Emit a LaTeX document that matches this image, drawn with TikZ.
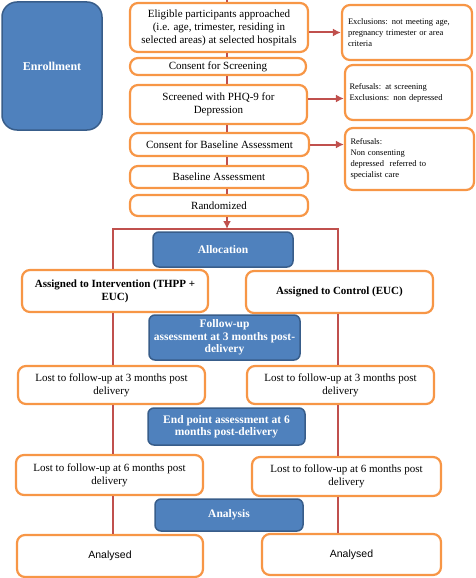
\documentclass[tikz,border=0pt]{standalone}
\usepackage{fontspec}
\setmainfont{Liberation Serif}
\newfontfamily\arialfont{Liberation Sans}
\usetikzlibrary{arrows.meta}
\definecolor{boxorange}{RGB}{247,150,70}
\definecolor{linkred}{RGB}{192,80,77}
\definecolor{phaseblue}{RGB}{79,129,189}
\definecolor{phaseedge}{RGB}{56,93,138}
\tikzset{
  obox/.style={draw=boxorange, line width=2.2pt, rounded corners=8pt, fill=white, align=center, inner sep=2pt, font=\fontsize{11}{13}\selectfont},
  bbox/.style={obox, font=\fontsize{11}{13}\selectfont\bfseries},
  sidebox/.style={obox, align=left, text width=118pt, font=\fontsize{8.5}{11}\selectfont},
  phase/.style={draw=phaseedge, line width=1.5pt, rounded corners=6pt, fill=phaseblue, text=white, align=center, font=\fontsize{11.5}{12.5}\selectfont\bfseries},
  link/.style={draw=linkred, line width=2pt},
  linkarrow/.style={link, -{Latex[length=8pt,width=8pt]}}
}
\begin{document}
\begin{tikzpicture}[x=1pt,y=-1pt]
        \useasboundingbox (0,0) rectangle (475,578);
        \node[phase, rounded corners=15pt, minimum width=100pt, minimum height=128pt, font=\fontsize{12}{14}\selectfont\bfseries] (enroll) at (52,66) {Enrollment};

        \node[obox, minimum width=178pt, minimum height=49pt] (elig) at (219,27.5) {Eligible participants approached\\(i.e. age, trimester, residing in\\selected areas) at selected hospitals};
        \node[obox, minimum width=176pt, minimum height=17pt] (cscr) at (218,66.5) {Consent for Screening};
        \node[obox, minimum width=177pt, minimum height=39pt] (phq) at (218.5,104.5) {Screened with PHQ-9 for\\Depression};
        \node[obox, minimum width=179pt, minimum height=23pt] (cbase) at (219.5,144.5) {Consent for Baseline Assessment};
        \node[obox, minimum width=178pt, minimum height=22pt] (base) at (219,177) {Baseline Assessment};
        \node[obox, minimum width=178pt, minimum height=21pt] (rand) at (219,205.5) {Randomized};

        \node[sidebox, minimum width=130pt, minimum height=55pt] (excla) at (407,32.5) {Exclusions: not meeting age,\\pregnancy trimester or area\\criteria};
        \node[sidebox, minimum width=127pt, minimum height=55pt] (exclb) at (408.5,92.5) {Refusals: at screening\\Exclusions: non depressed};
        \node[sidebox, minimum width=129pt, minimum height=62pt] (exclc) at (409.5,159) {Refusals:\\Non consenting\\depressed\ \ referred to\\specialist care};

        \coordinate (top) at (227,0);
        \coordinate (split) at (227,229);
        \coordinate (lft) at (113,229);
        \coordinate (rgt) at (338,229);
        \draw[link] (top) -- (top |- elig.north);
        \foreach \a/\b in {elig/cscr, cscr/phq, phq/cbase, cbase/base, base/rand}
            \draw[link] (top |- \a.south) -- (top |- \b.north);
        \draw[linkarrow] (top |- rand.south) -- (split);
        \draw[linkarrow] (elig.east |- excla.west) -- (excla.west);
        \draw[linkarrow] ([yshift=6pt]phq.east) -- ([yshift=6pt]phq.east -| exclb.west);
        \draw[linkarrow] (cbase.east) -- (cbase.east -| exclc.west);

        \node[phase, minimum width=140pt, minimum height=35pt] (alloc) at (223,249.5) {Allocation};
        \node[bbox, minimum width=186pt, minimum height=42pt] (assint) at (115,291) {Assigned to Intervention (THPP +\\EUC)};
        \node[bbox, minimum width=187pt, minimum height=42pt] (assctl) at (339.5,292) {Assigned to Control (EUC)};
        \node[phase, minimum width=151pt, minimum height=45pt] (fup) at (224.5,337.5) {Follow-up\\assessment at 3 months post-\\delivery};
        \node[obox, minimum width=187pt, minimum height=38pt] (lostint) at (111.5,385) {Lost to follow-up at 3 months post\\delivery};
        \node[obox, minimum width=187pt, minimum height=38pt] (lostctl) at (340.5,385) {Lost to follow-up at 3 months post\\delivery};
        \node[phase, minimum width=157pt, minimum height=37pt] (endpt) at (226.5,426.5) {End point assessment at 6\\months post-delivery};
        \node[obox, minimum width=187pt, minimum height=40pt] (lastint) at (109.5,475) {Lost to follow-up at 6 months post\\delivery};
        \node[obox, minimum width=189pt, minimum height=39pt] (lastctl) at (346.5,476.5) {Lost to follow-up at 6 months post\\delivery};
        \node[phase, minimum width=148pt, minimum height=32pt] (anal) at (229,515) {Analysis};
        \node[obox, font=\arialfont\fontsize{10.5}{12}\selectfont, minimum width=186pt, minimum height=42pt] (doneint) at (110,556) {Analysed};
        \node[obox, font=\arialfont\fontsize{10.5}{12}\selectfont, minimum width=179pt, minimum height=41pt] (donectl) at (351.5,554.5) {Analysed};

        \draw[link] (assint.north -| lft) -- (lft) -- (rgt) -- (assctl.north -| rgt);
        \foreach \a/\b in {assint/lostint, lostint/lastint, lastint/doneint}
            \draw[link] (lft |- \a.south) -- (lft |- \b.north);
        \foreach \a/\b in {assctl/lostctl, lostctl/lastctl, lastctl/donectl}
            \draw[link] (rgt |- \a.south) -- (rgt |- \b.north);
\end{tikzpicture}
\end{document}
